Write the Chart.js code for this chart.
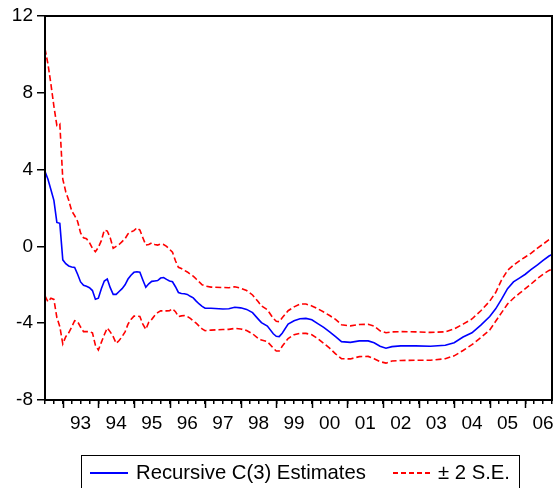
<!DOCTYPE html>
<html>
<head>
<meta charset="utf-8">
<script src="https://cdn.jsdelivr.net/npm/chart.js@4.4.0/dist/chart.umd.min.js"></script>
<style>
html, body { margin: 0; padding: 0; background: #fff; overflow: hidden; }
#wrap { position: relative; width: 560px; height: 488px; font-family: "Liberation Sans", Arial, sans-serif; }
#chart { position: absolute; left: 0; top: 0; }
#legend { position: absolute; left: 81px; top: 455px; width: 439px; height: 60px; border: 1px solid #000; box-sizing: border-box; }
.lg { position: absolute; font-size: 20.3px; line-height: 20px; color: #000; white-space: nowrap; }
.swatch { position: absolute; width: 38px; height: 1.5px; }
</style>
</head>
<body>
<div id="wrap">
  <canvas id="chart" width="560" height="488"></canvas>
  <div id="legend"></div>
  <div class="swatch" style="left:90px;top:472px;background:#0000ff;"></div>
  <div class="lg" style="left:136px;top:462px;">Recursive C(3) Estimates</div>
  <div class="swatch" style="left:393px;top:472px;background:repeating-linear-gradient(to right,#ff0000 0 5px,transparent 5px 8px);"></div>
  <div class="lg" style="left:438px;top:462px;">± 2 S.E.</div>
</div>
<script>
// Dados (mensal, 1992-07 a 2006-10)
const months = [
  '1992-07','1992-08','1992-09','1992-10','1992-11','1992-12',
  '1993-01','1993-02','1993-03','1993-04','1993-05','1993-06','1993-07','1993-08','1993-09','1993-10','1993-11','1993-12',
  '1994-01','1994-02','1994-03','1994-04','1994-05','1994-06','1994-07','1994-08','1994-09','1994-10','1994-11','1994-12',
  '1995-01','1995-02','1995-03','1995-04','1995-05','1995-06','1995-07','1995-08','1995-09','1995-10','1995-11','1995-12',
  '1996-01','1996-02','1996-03','1996-04','1996-05','1996-06','1996-07','1996-08','1996-09','1996-10','1996-11','1996-12',
  '1997-01','1997-03','1997-07','1997-09','1997-11',
  '1998-01','1998-03','1998-05','1998-07','1998-08','1998-10','1998-12',
  '1999-01','1999-02','1999-03','1999-05','1999-07','1999-09','1999-11',
  '2000-01','2000-03','2000-05','2000-07','2000-09','2000-11',
  '2001-02','2001-05','2001-08','2001-10','2001-12',
  '2002-02','2002-04','2002-07','2002-12','2003-05','2003-10',
  '2004-01','2004-04','2004-07','2004-10',
  '2005-01','2005-03','2005-05','2005-07','2005-09','2005-11',
  '2006-01','2006-03','2006-05','2006-07','2006-09','2006-10'
];

const estimate = [
  3.9, 3.5, 2.95, 2.4, 1.25, 1.2,
  -0.7, -0.9, -1.02, -1.07, -1.1, -1.45, -1.85, -2.03, -2.08, -2.15, -2.3, -2.75,
  -2.7, -2.2, -1.8, -1.7, -2.15, -2.5, -2.5, -2.35, -2.2, -2.0, -1.7, -1.5,
  -1.35, -1.32, -1.35, -1.75, -2.13, -1.95, -1.82, -1.8, -1.78, -1.65, -1.62, -1.72,
  -1.8, -1.84, -2.1, -2.4, -2.45, -2.47, -2.5, -2.6, -2.68, -2.85, -3.0, -3.12,
  -3.22, -3.22, -3.26, -3.25, -3.17,
  -3.2, -3.28, -3.45, -3.8, -3.97, -4.15, -4.55,
  -4.68, -4.7, -4.52, -4.05, -3.87, -3.77, -3.75,
  -3.82, -4.02, -4.22, -4.45, -4.7, -4.96,
  -5.0, -4.92, -4.92, -5.02, -5.2,
  -5.3, -5.22, -5.18, -5.18, -5.2, -5.15,
  -5.02, -4.72, -4.5, -4.1,
  -3.65, -3.25, -2.75, -2.2, -1.85, -1.65,
  -1.45, -1.2, -0.97, -0.73, -0.5, -0.42
];

const upperBand = [
  10.3, 9.5, 8.45, 7.3, 6.3, 6.38,
  3.5, 2.85, 2.4, 1.85, 1.6, 1.3, 0.7, 0.45, 0.4, 0.2, -0.1, -0.28,
  -0.05, 0.3, 0.85, 0.8, 0.45, -0.1, 0.0, 0.1, 0.25, 0.4, 0.65, 0.75,
  0.82, 0.97, 0.85, 0.45, 0.07, 0.1, 0.18, 0.1, 0.07, 0.12, 0.1, 0.0,
  -0.15, -0.3, -0.75, -1.09, -1.15, -1.25, -1.33, -1.45, -1.55, -1.7, -1.85, -2.0,
  -2.06, -2.12, -2.14, -2.15, -2.1,
  -2.18, -2.3, -2.53, -2.9, -3.1, -3.3, -3.75,
  -3.9, -3.92, -3.72, -3.35, -3.15, -3.0, -3.0,
  -3.1, -3.25, -3.42, -3.6, -3.8, -4.08,
  -4.14, -4.07, -4.06, -4.15, -4.4,
  -4.5, -4.45, -4.44, -4.45, -4.48, -4.45,
  -4.3, -4.05, -3.78, -3.35,
  -2.85, -2.4, -1.75, -1.25, -0.98, -0.75,
  -0.55, -0.35, -0.1, 0.12, 0.35, 0.42
];

const lowerBand = [
  -2.58, -2.88, -2.7, -2.76, -3.7, -4.18,
  -5.08, -4.7, -4.5, -4.2, -3.87, -3.92, -4.2, -4.44, -4.44, -4.44, -4.5, -5.15,
  -5.4, -5.0, -4.6, -4.25, -4.45, -4.7, -5.05, -4.9, -4.7, -4.45, -4.05, -3.8,
  -3.63, -3.63, -3.65, -4.05, -4.32, -3.95, -3.8, -3.6, -3.45, -3.36, -3.36, -3.36,
  -3.35, -3.25, -3.4, -3.66, -3.62, -3.6, -3.65, -3.75, -3.88, -4.0, -4.15, -4.3,
  -4.39, -4.36, -4.33, -4.32, -4.27,
  -4.3, -4.38, -4.55, -4.8, -4.88, -4.96, -5.3,
  -5.45, -5.45, -5.2, -4.8, -4.6, -4.53, -4.53,
  -4.6, -4.8, -5.05, -5.3, -5.6, -5.85,
  -5.86, -5.74, -5.73, -5.85, -6.0,
  -6.08, -5.97, -5.94, -5.93, -5.93, -5.85,
  -5.7, -5.42, -5.12, -4.75,
  -4.35, -3.9, -3.45, -3.0, -2.7, -2.45,
  -2.2, -1.95, -1.68, -1.45, -1.25, -1.19
];

const yTicks = [-8, -4, 0, 4, 8, 12];
const yearLabels = ['93','94','95','96','97','98','99','00','01','02','03','04','05','06'];
const firstYear = 1993;
const xMin = 1992.5, xMax = 2006.75;

function toYear(s) {
    return +s.slice(0, 4) + (+s.slice(5, 7) - 1) / 12;
}
function points(values) {
    return months.map((m, i) => ({ x: toYear(m), y: values[i] }));
}

// Moldura e ticks maiores dos anos
const framePlugin = {
    id: 'frame',
    afterDraw(chart) {
        const { ctx, chartArea: a, scales } = chart;
        ctx.save();
        ctx.strokeStyle = '#000';
        ctx.lineWidth = 1.5;
        for (let i = 0; i < yearLabels.length; i++) {
            const px = Math.round(scales.x.getPixelForValue(firstYear + i)) + 0.5;
            ctx.beginPath();
            ctx.moveTo(px, a.bottom);
            ctx.lineTo(px, a.bottom + 8);
            ctx.stroke();
        }
        ctx.lineWidth = 2;
        ctx.strokeRect(a.left, a.top, a.right - a.left, a.bottom - a.top);
        ctx.restore();
    }
};

Chart.defaults.font.family = '"Liberation Sans", Arial, sans-serif';
Chart.defaults.font.size = 19;
Chart.defaults.color = '#000';

new Chart(document.getElementById('chart').getContext('2d'), {
    type: 'line',
    data: {
        datasets: [
            { label: 'Recursive C(3) Estimates', data: points(estimate), borderColor: '#0000ff', borderWidth: 1.6 },
            { label: '± 2 S.E.', data: points(upperBand), borderColor: '#ff0000', borderWidth: 1.6, borderDash: [6, 3] },
            { label: '± 2 S.E.', data: points(lowerBand), borderColor: '#ff0000', borderWidth: 1.6, borderDash: [6, 3] }
        ]
    },
    options: {
        responsive: false,
        animation: false,
        devicePixelRatio: 1,
        layout: { padding: { top: 16, right: 3, left: 0, bottom: 0 } },
        elements: { point: { radius: 0 }, line: { tension: 0, fill: false } },
        plugins: { legend: { display: false }, tooltip: { enabled: false } },
        scales: {
            x: {
                type: 'linear',
                min: xMin,
                max: xMax,
                afterBuildTicks(scale) {
                    const t = [];
                    for (let v = xMin; v <= xMax + 1e-9; v += 0.25) t.push({ value: v });
                    scale.ticks = t;
                },
                afterFit(scale) { scale.height = 88; },
                grid: { drawOnChartArea: false, drawTicks: true, tickLength: 4, color: '#000', lineWidth: 1.5 },
                border: { display: false },
                ticks: {
                    autoSkip: false,
                    maxRotation: 0,
                    padding: 8,
                    callback(value) {
                        const y = Math.floor(value);
                        if (Math.abs(value - y - 0.5) > 1e-6) return '';
                        const i = y - firstYear;
                        return i >= 0 && i < yearLabels.length ? yearLabels[i] : '';
                    }
                }
            },
            y: {
                min: -8,
                max: 12,
                afterBuildTicks(scale) { scale.ticks = yTicks.map(v => ({ value: v })); },
                afterFit(scale) { scale.width = 45; },
                grid: { drawOnChartArea: false, drawTicks: true, tickLength: 8, color: '#000', lineWidth: 1.5 },
                border: { display: false },
                ticks: { padding: 4, callback: v => String(v) }
            }
        }
    },
    plugins: [framePlugin]
});
</script>
</body>
</html>
